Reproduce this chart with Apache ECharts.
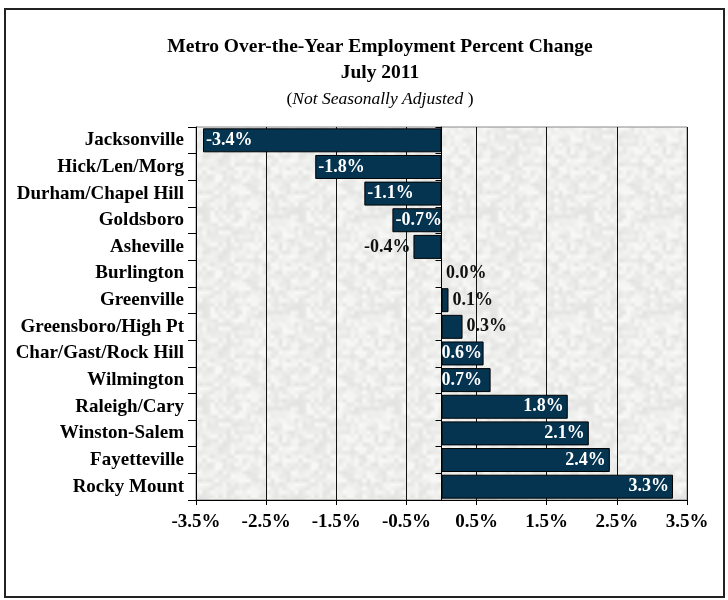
<!DOCTYPE html>
<html>
<head>
<meta charset="utf-8">
<script src="https://cdn.jsdelivr.net/npm/echarts@6/dist/echarts.min.js"></script>
<style>
  html, body { margin: 0; padding: 0; background: #fff; }
  #chart { width: 728px; height: 600px; }
</style>
</head>
<body>
<div id="chart"></div>
<script>
// metro areas, top to bottom
const metros = [
  'Jacksonville', 'Hick/Len/Morg', 'Durham/Chapel Hill', 'Goldsboro', 'Asheville',
  'Burlington', 'Greenville', 'Greensboro/High Pt', 'Char/Gast/Rock Hill', 'Wilmington',
  'Raleigh/Cary', 'Winston-Salem', 'Fayetteville', 'Rocky Mount'
]
// over-the-year percent change, July 2011
const pctChange = [-3.4, -1.8, -1.1, -0.7, -0.4, 0.0, 0.1, 0.3, 0.6, 0.7, 1.8, 2.1, 2.4, 3.3]
// x axis range / ticks
const xMin = -3.5
const xMax = 3.5
const xStep = 1

const serif = '"Liberation Serif", "Times New Roman", serif'
const barColor = '#053451'

// light grey "marble" fill for the plot area (fixed hash, no randomness)
const makeTexture = () => {
  const size = 96
  const cv = document.createElement('canvas')
  cv.width = size
  cv.height = size
  const ctx = cv.getContext('2d')
  const img = ctx.createImageData(size, size)
  const hash = (x, y) => {
    let h = (x * 374761393 + y * 668265263) | 0
    h = (h ^ (h >>> 13)) * 1274126177 | 0
    return ((h ^ (h >>> 16)) >>> 0) / 4294967295
  }
  const cell = 4
  const n = size / cell
  const val = (x, y) => hash(((x % n) + n) % n, ((y % n) + n) % n)
  for (let y = 0; y < size; y++) {
    for (let x = 0; x < size; x++) {
      const gx = x / cell, gy = y / cell
      const x0 = Math.floor(gx), y0 = Math.floor(gy)
      const fx = gx - x0, fy = gy - y0
      const a = val(x0, y0) * (1 - fx) + val(x0 + 1, y0) * fx
      const b = val(x0, y0 + 1) * (1 - fx) + val(x0 + 1, y0 + 1) * fx
      const v = a * (1 - fy) + b * fy
      const g = Math.round(226 + v * 24)
      const i = (y * size + x) * 4
      img.data[i] = g
      img.data[i + 1] = g
      img.data[i + 2] = g - 1
      img.data[i + 3] = 255
    }
  }
  ctx.putImageData(img, 0, 0)
  return cv
}

// where each data label goes (same as the excel chart)
const labelFor = (v) => {
  if (v <= -0.7) return { position: 'insideLeft', color: '#fff', distance: 3 }
  if (v < 0) return { position: 'left', color: '#111', distance: 3 }
  if (v < 0.5) return { position: 'right', color: '#111', distance: 4 }
  if (v < 1) return { position: 'insideLeft', color: '#fff', distance: 0 }
  return { position: 'insideRight', color: '#fff', distance: 4 }
}

const chart = echarts.init(document.getElementById('chart'))

const option = {
  backgroundColor: '#fff',
  animation: false,
  title: {
    left: 375,
    top: 29,
    textAlign: 'center',
    text: '{a|Metro Over-the-Year Employment Percent Change}\n{a|July 2011}\n{b|(}{c|Not Seasonally Adjusted}{b| )}',
    textStyle: {
      rich: {
        a: { fontFamily: serif, fontWeight: 'bold', fontSize: 19.5, color: '#000', lineHeight: 26 },
        b: { fontFamily: serif, fontWeight: 'normal', fontSize: 17.5, color: '#000', lineHeight: 26 },
        c: { fontFamily: serif, fontWeight: 'normal', fontStyle: 'italic', fontSize: 17.5, color: '#000', lineHeight: 26 }
      }
    }
  },
  graphic: [
    {
      type: 'rect',
      shape: { x: 5, y: 9, width: 719, height: 588 },
      style: { fill: 'none', stroke: '#222', lineWidth: 2 },
      silent: true
    }
  ],
  grid: {
    left: 196,
    right: 41,
    top: 127,
    bottom: 100,
    show: true,
    backgroundColor: { image: makeTexture(), repeat: 'repeat' },
    borderColor: '#8a8a8a',
    borderWidth: 1
  },
  xAxis: {
    type: 'value',
    min: xMin,
    max: xMax,
    interval: xStep,
    axisLine: { show: true, lineStyle: { color: '#000', width: 1 } },
    axisTick: { show: true, length: 5, lineStyle: { color: '#000' } },
    axisLabel: {
      margin: 13,
      fontFamily: serif,
      fontWeight: 'bold',
      fontSize: 19,
      color: '#000',
      formatter: (v) => v.toFixed(1) + '%'
    },
    splitLine: { show: true, lineStyle: { color: '#111', width: 1 } }
  },
  yAxis: [
    {
      // zero line with ticks
      type: 'category',
      data: metros,
      inverse: true,
      axisLine: { show: true, onZero: true, lineStyle: { color: '#000' } },
      axisTick: { show: true, length: 6, lineStyle: { color: '#000' } },
      axisLabel: { show: false },
      splitLine: { show: false }
    },
    {
      // left axis carrying the names
      type: 'category',
      data: metros,
      inverse: true,
      position: 'left',
      axisLine: { show: true, onZero: false, lineStyle: { color: '#000' } },
      axisTick: { show: true, length: 8, lineStyle: { color: '#000' } },
      axisLabel: {
        margin: 12,
        fontFamily: serif,
        fontWeight: 'bold',
        fontSize: 19,
        color: '#000'
      },
      splitLine: { show: false }
    }
  ],
  series: [
    {
      type: 'bar',
      yAxisIndex: 0,
      barCategoryGap: '10%',
      itemStyle: { color: barColor, borderColor: '#000', borderWidth: 1 },
      label: {
        show: true,
        fontFamily: serif,
        fontWeight: 'bold',
        fontSize: 18,
        formatter: (p) => p.value.toFixed(1) + '%'
      },
      data: pctChange.map(v => ({ value: v, label: labelFor(v) }))
    }
  ]
}

chart.setOption(option)
</script>
</body>
</html>
